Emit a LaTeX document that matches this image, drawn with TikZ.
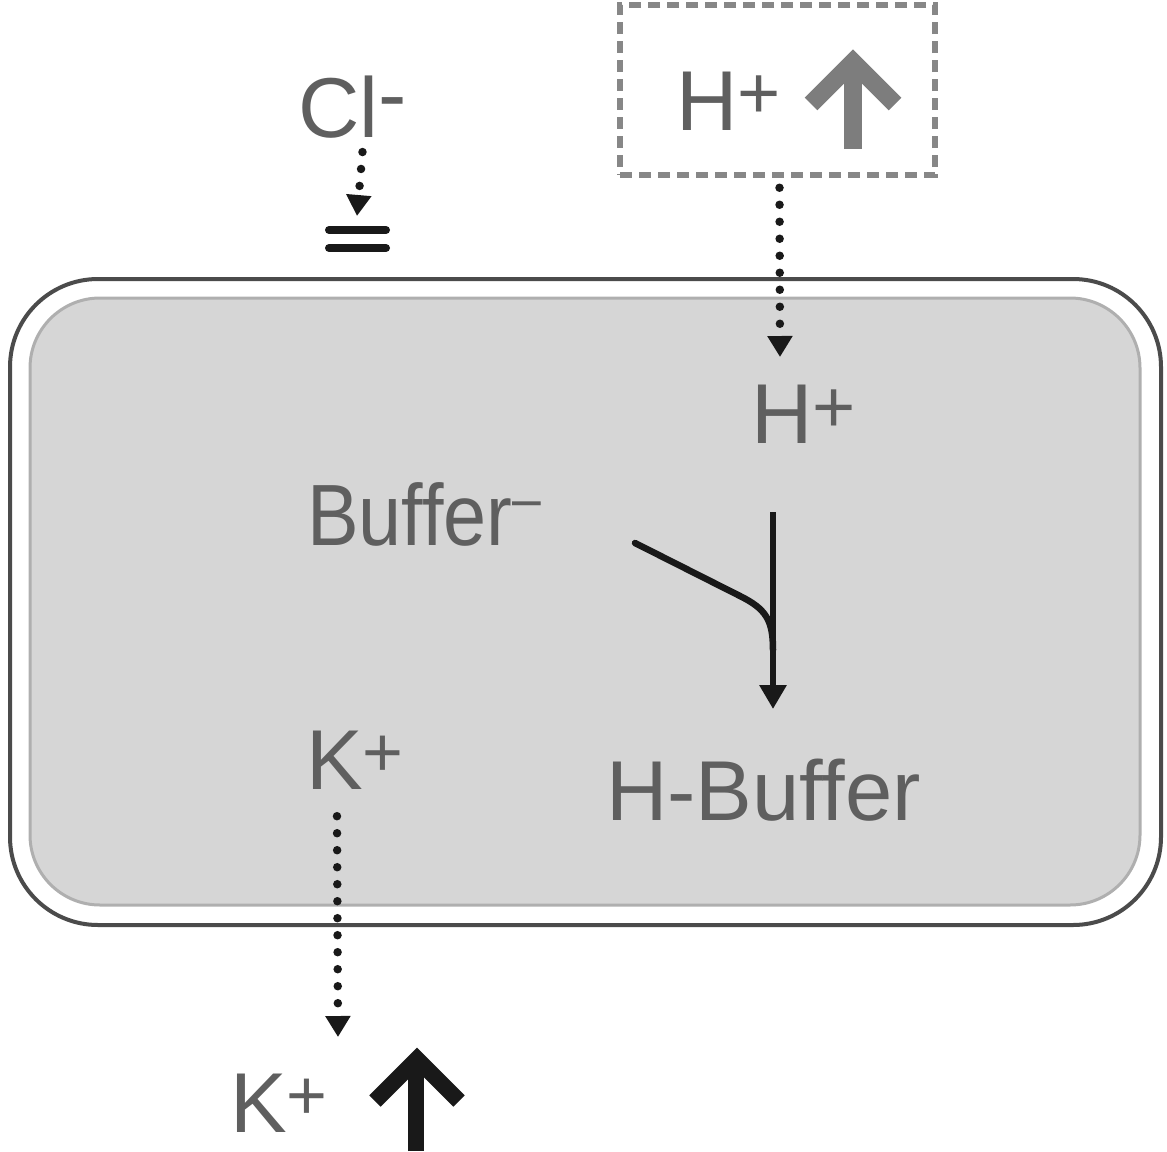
\documentclass[tikz,border=0pt]{standalone}
\usepackage{fontspec}
\setmainfont{Liberation Sans}
\usetikzlibrary{arrows.meta}
\definecolor{txt}{RGB}{95,95,95}
\definecolor{cellfill}{RGB}{214,214,214}
\definecolor{cellrim}{RGB}{175,175,175}
\definecolor{outerrim}{RGB}{75,75,75}
\definecolor{boxgray}{RGB}{135,135,135}
\definecolor{arrgray}{RGB}{125,125,125}
\definecolor{ink}{RGB}{25,25,25}
% raised charge sign: size, raise, text
\newcommand{\chg}[3]{\raisebox{#2}{\fontsize{#1}{#1}\selectfont #3}}
\begin{document}
\begin{tikzpicture}[x=1pt,y=-1pt,
  lbl/.style={anchor=base west, inner sep=0pt, text=txt, font=\fontsize{85}{96}\selectfont},
  dotarrow/.style={draw=ink, line width=8.5pt, line cap=round, dash pattern=on 0pt off 17pt,
    -{Triangle[width=24pt,length=21pt]}},
  rxn/.style={draw=ink, line width=6.5pt},
  bigup/.style={line join=miter, line cap=butt},
  bar/.style={draw=ink, line width=8pt, line cap=round}]
\useasboundingbox (0,0) rectangle (1167,1151);
% cell
\draw[outerrim, line width=4pt, rounded corners=88pt] (10,279) rectangle (1161,925);
\draw[cellrim, fill=cellfill, line width=3pt, rounded corners=70pt] (30,298) rectangle (1140,905);
% dashed box
\node[draw=boxgray, dash pattern=on 12pt off 7pt, line width=5.5pt,
      minimum width=315pt, minimum height=170pt, inner sep=0pt] (hbox) at (777.5,90) {};
\node[lbl] (hboxlbl) at (676,130) {H\chg{74}{12pt}{+}};
\draw[arrgray, line width=18pt] (853,149) -- (853,70);
\draw[arrgray, line width=18pt, bigup] (811,104) -- (853,62) -- (895,104);
% labels
\node[lbl] (cl) at (298,137) {Cl\chg{85}{14pt}{-}};
\node[lbl] (hin) at (751,443) {H\chg{74}{11pt}{+}};
\node[lbl, font=\fontsize{87}{96}\selectfont\addfontfeature{FakeStretch=0.89}] (buf) at (307,545) {Buffer\chg{58}{27pt}{–}};
\node[lbl] (hbuf) at (606,820) {H-Buffer};
\node[lbl] (kin) at (306,789) {K\chg{70}{13pt}{+}};
\node[lbl] (kout) at (230,1132) {K\chg{70}{13pt}{+}};
% gate under Cl-
\coordinate (clgate) at (357,216);
\draw[bar] (329,230) -- (386,230);
\draw[bar] (329,248) -- (386,248);
% dotted arrows
\coordinate (hentry) at (780,357);
\coordinate (kexit) at (338,1037);
\draw[dotarrow] ([shift={(10,14)}]cl.south) -- (clgate);
\draw[dotarrow] ([shift={(2,10)}]hbox.south) -- (hentry);
\draw[dotarrow] ([shift={(-18,27)}]kin.south) -- (kexit);
% buffering reaction
\coordinate (rtop) at (773,512);
\coordinate (rtip) at (773,709);
\coordinate (rbranch) at (635,543);
\draw[rxn, -{Triangle[width=26pt,length=24pt]}] (rtop) -- (rtip);
\draw[rxn, line cap=round] (rbranch) -- (740,596) .. controls (766,609) and (773,620) .. (773,650);
% K+ rising arrow
\draw[ink, line width=16pt] (416,1151) -- (416,1070);
\draw[ink, line width=16pt, bigup] (375,1101) -- (417,1059) -- (459,1101);
\end{tikzpicture}
\end{document}
